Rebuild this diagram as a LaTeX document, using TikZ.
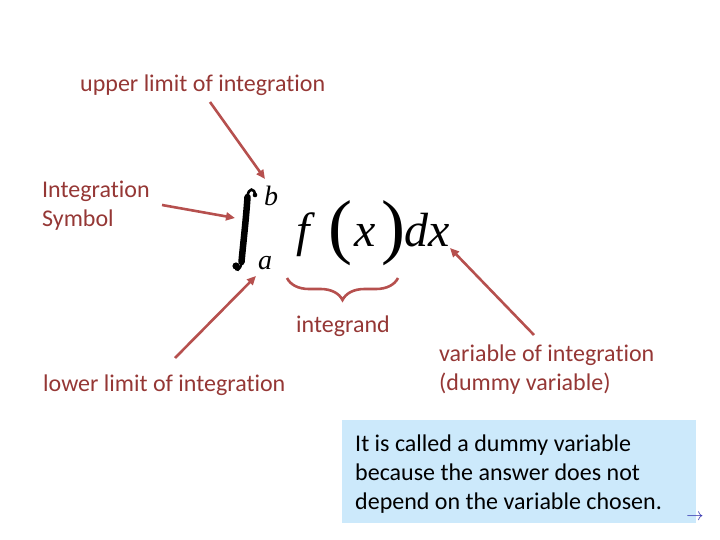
\documentclass[tikz,border=0pt]{standalone}
\usepackage{fontspec}
\setmainfont{Carlito}[RawFeature={-liga;-clig;-dlig;-calt}]
\newfontfamily\tnr{Liberation Serif}
\usetikzlibrary{arrows.meta,decorations.pathreplacing}
\definecolor{lbltext}{RGB}{149,55,53}
\definecolor{arrred}{RGB}{182,80,78}
\definecolor{boxblue}{RGB}{204,233,251}
\definecolor{navarrow}{RGB}{40,40,170}
\tikzset{
  lbl/.style={font=\fontsize{24}{29}\selectfont, text=lbltext, inner sep=0pt, align=left},
  boxtxt/.style={font=\fontsize{24}{29}\selectfont, text=black, inner sep=0pt, align=left},
  ptr/.style={draw=arrred, line width=2.6pt, -{Triangle[length=9pt,width=8pt]}},
  mathit/.style={font=\tnr\itshape\fontsize{48}{48}\selectfont, inner sep=0pt, anchor=base},
  paren/.style={font=\tnr\fontsize{72}{72}\selectfont, inner sep=0pt, anchor=base},
  limit/.style={font=\tnr\itshape\fontsize{28}{28}\selectfont, inner sep=0pt},
  intthin/.style={draw=black, line width=2.6pt, line cap=round},
  intthick/.style={draw=black, line width=6.5pt, line cap=round},
  bracestyle/.style={draw=arrred, line width=2.6pt, decorate, decoration={brace, amplitude=22pt, mirror}}
}
\begin{document}
\begin{tikzpicture}[x=1pt,y=-1pt]
\useasboundingbox (0,0) rectangle (720,540);
% integral sign
\coordinate (i1) at (255,195);
\coordinate (i2) at (247.5,197);
\coordinate (i3) at (241.5,262);
\coordinate (i4) at (236,266);
\draw[intthin] (i1) .. controls (255,188) and (248,187) .. (i2);
\draw[intthick] (i2) .. controls (246,220) and (243,245) .. (i3);
\draw[intthin] (i3) .. controls (240.5,271) and (235,272) .. (i4);
\fill (i1) circle (2.3pt);
\fill (i4) circle (3.6pt);
% formula
\node[limit] (ub) at (271,196) {b};
\node[limit] (lb) at (265,263) {a};
\node[mathit] (f) at (303,246) {f};
\node[paren] (lp) at (340,251) {(};
\node[mathit] (x) at (365,246) {x};
\node[paren] (rp) at (393,251) {)};
\node[mathit] (dx) at (427,246) {dx};
% labels
\node[lbl, anchor=base west] (upper) at (80,92) {upper limit of integration};
\node[lbl, anchor=base west] (symb) at (42,226) {Integration\\Symbol};
\node[lbl, anchor=base west] (lower) at (43,391) {lower limit of integration};
\node[lbl, anchor=base west] (integrand) at (296,332) {integrand};
\node[lbl, anchor=base west] (varint) at (439,390) {variable of integration\\(dummy variable)};
% box
\node[fill=boxblue, minimum width=354pt, minimum height=103pt, inner sep=0pt, anchor=north west] (box) at (342,420) {};
\node[boxtxt, anchor=base west] (boxtext) at (355,509) {It is called a dummy variable\\because the answer does not\\depend on the variable chosen.};
\node[text=navarrow, inner sep=0pt] (nav) at (695,517) {\fontsize{16}{16}\selectfont$\rightarrow$};
% arrow endpoints
\coordinate (a1s) at (210,102);
\coordinate (a1e) at (265,179);
\coordinate (a2s) at (162,205);
\coordinate (a2e) at (235,218);
\coordinate (a3s) at (175,358);
\coordinate (a3e) at (256,276);
\coordinate (a4s) at (534,335);
\coordinate (a4e) at (450,248);
\coordinate (brL) at (287,278);
\coordinate (brR) at (398,278);
\draw[ptr] (a1s) -- (a1e);
\draw[ptr] (a2s) -- (a2e);
\draw[ptr] (a3s) -- (a3e);
\draw[ptr] (a4s) -- (a4e);
\draw[bracestyle] (brL) -- (brR);
\end{tikzpicture}
\end{document}
